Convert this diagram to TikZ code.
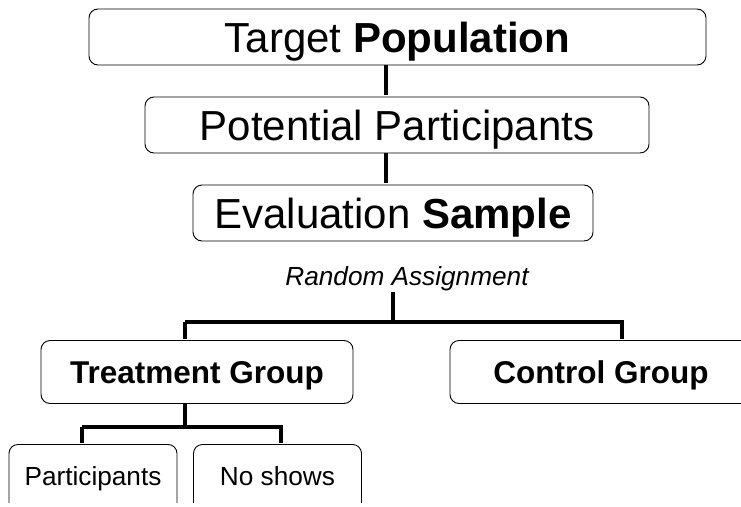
\documentclass[tikz,border=0pt]{standalone}
\usepackage{fontspec}
\setmainfont{Liberation Sans}
\usepackage{tikz}
\usetikzlibrary{positioning}

\begin{document}
\begin{tikzpicture}[
  x=1pt, y=-1pt,
  bbox/.style={
    draw=black, line width=0.9pt, rounded corners=9pt,
    inner sep=0pt, align=center
  },
  bigtext/.style={font=\fontsize{42}{48}\selectfont,
    text height=30pt, text depth=0pt},
  midtext/.style={font=\fontsize{31.5}{36}\selectfont\bfseries,
    text height=22.5pt, text depth=0pt},
  smalltext/.style={font=\fontsize{26.2}{30}\selectfont},
  leafbox/.style={
    bbox, smalltext, anchor=north, minimum width=168pt,
    text height=41pt, text depth=34pt
  },
  conn/.style={line width=3.2pt, shorten >=1.5pt}
]
\useasboundingbox (0,0) rectangle (741,506);
\clip (0,0) rectangle (741,502);

% upper chain
\node[bbox, bigtext, minimum width=617pt, minimum height=56pt]
  (target) at (397.5,37) {Target \textbf{Population}};
\node[bbox, bigtext, minimum width=504pt, minimum height=56pt]
  (potential) at (397,125) {Potential Participants};
\node[bbox, bigtext, minimum width=400pt, minimum height=56pt]
  (evaluation) at (393,213) {Evaluation \textbf{Sample}};

\coordinate (trunk) at (386,0);
\draw[conn] (target.south -| trunk) -- (potential.north -| trunk);
\draw[conn] (potential.south -| trunk) -- (evaluation.north -| trunk);

% random assignment
\node[font=\fontsize{26.2}{30}\selectfont\itshape, anchor=base, inner sep=1pt]
  (random) at (407,285) {Random Assignment};

\node[bbox, midtext, minimum width=312pt, minimum height=63pt]
  (treatment) at (197,372) {Treatment Group};
\node[bbox, midtext, minimum width=302pt, minimum height=63pt]
  (control) at (601,372) {Control Group};

\coordinate (split) at (393,322);
\coordinate (armL) at (185,322);
\coordinate (armR) at (622,322);
\draw[conn, shorten >=0pt] (random.south -| split) -- (split);
\draw[conn] (armL) -- (armR) -- (control.north -| armR);
\draw[conn] (armL) -- (treatment.north -| armL);

% treatment outcomes
\node[leafbox] (participants) at (93,444) {Participants};
\node[leafbox] (noshows) at (277.5,444) {No shows};

\coordinate (tsplit) at (185,427);
\coordinate (leafL) at (82,427);
\coordinate (leafR) at (281,427);
\draw[conn, shorten >=0pt] (treatment.south -| tsplit) -- (tsplit);
\draw[conn] (leafL) -- (leafR) -- (noshows.north -| leafR);
\draw[conn] (leafL) -- (participants.north -| leafL);
\end{tikzpicture}
\end{document}
